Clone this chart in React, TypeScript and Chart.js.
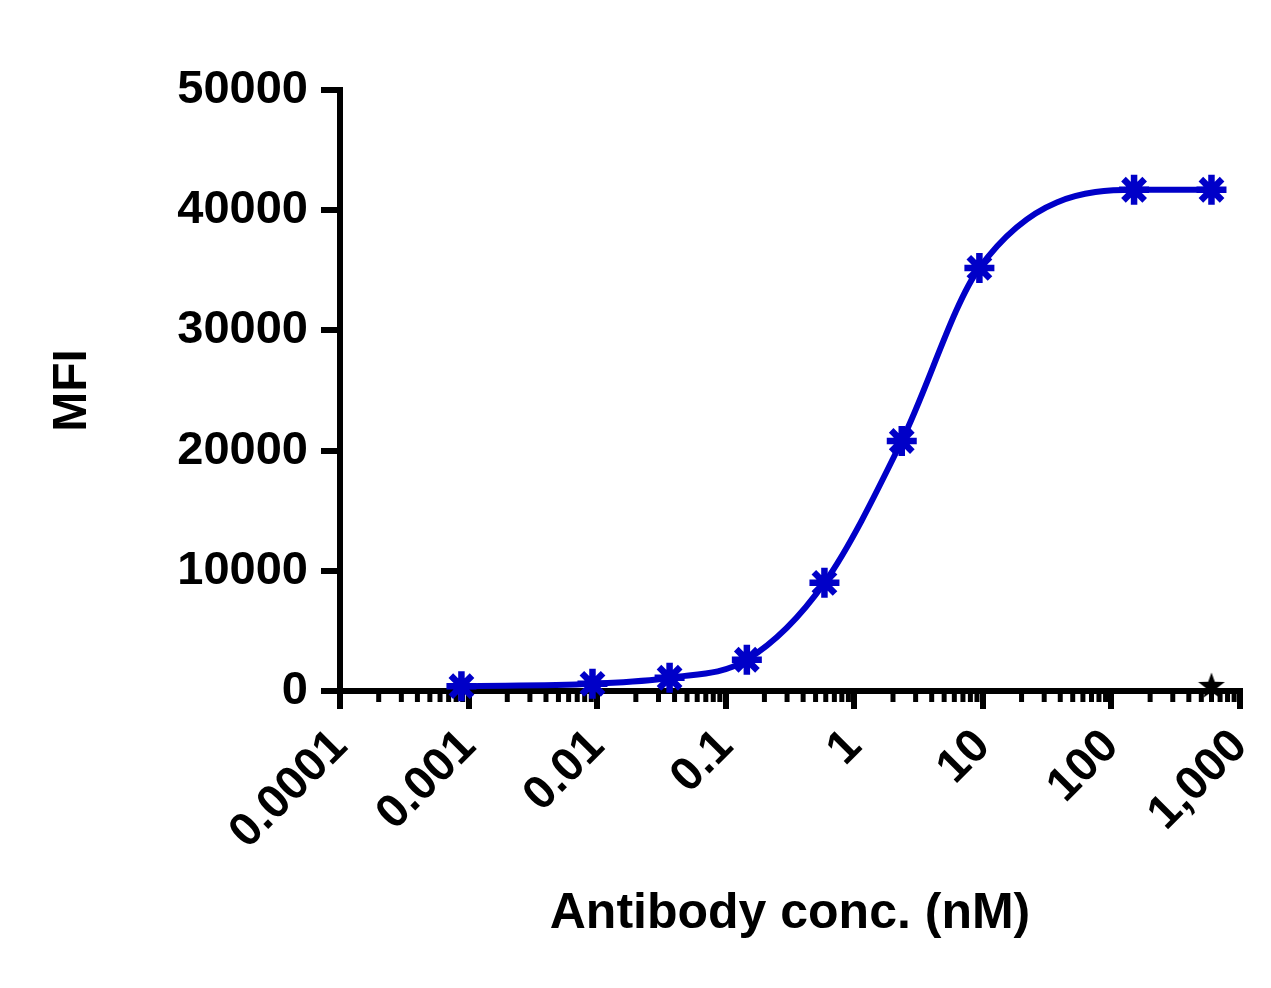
import React, { useEffect, useRef } from "react";
import { Chart, registerables } from "chart.js";

Chart.register(...registerables);

// data
const concentrations = [0.00088, 0.0092, 0.0366, 0.146, 0.586, 2.34, 9.4, 150, 600];
const mfiValues = [400, 600, 1100, 2600, 9000, 20800, 35200, 41700, 41700];
const controlConc = [600];
const controlMfi = [500];

const xTickValues = [0.0001, 0.001, 0.01, 0.1, 1, 10, 100, 1000];
const xTickLabels = ["0.0001", "0.001", "0.01", "0.1", "1", "10", "100", "1,000"];
const yTickValues = [0, 10000, 20000, 30000, 40000, 50000];

const BLUE = "#0000c8";
const FONT = "'Liberation Sans', Arial, sans-serif";

const decadeIndex = (v: number) =>
  xTickValues.findIndex((t) => Math.abs(Math.log10(t) - Math.log10(v)) < 1e-6);

// filled five-point star used as the control marker
function makeStar(size: number, color: string) {
  const c = document.createElement("canvas");
  c.width = size;
  c.height = size;
  const g = c.getContext("2d")!;
  g.fillStyle = color;
  g.beginPath();
  for (let i = 0; i < 10; i++) {
    const r = i % 2 === 0 ? size / 2 : size / 5;
    const a = -Math.PI / 2 + (i * Math.PI) / 5;
    g.lineTo(size / 2 + r * Math.cos(a), size / 2 + r * Math.sin(a) + size * 0.05);
  }
  g.closePath();
  g.fill();
  return c;
}

// short minor ticks under the log axis
const minorTicks = {
  id: "minorTicks",
  beforeDatasetsDraw(chart: any) {
    const xs = chart.scales.x;
    const ctx = chart.ctx;
    const y0 = chart.chartArea.bottom;
    ctx.save();
    ctx.strokeStyle = "#000";
    ctx.lineWidth = 5;
    for (let d = 0; d < xTickValues.length - 1; d++) {
      for (let k = 2; k <= 9; k++) {
        const px = xs.getPixelForValue(xTickValues[d] * k);
        ctx.beginPath();
        ctx.moveTo(px, y0);
        ctx.lineTo(px, y0 + 11);
        ctx.stroke();
      }
    }
    ctx.restore();
  },
};

const App = () => {
  const canvasRef = useRef<HTMLCanvasElement>(null);
  const chartRef = useRef<Chart | null>(null);

  useEffect(() => {
    if (!canvasRef.current) return;
    if (chartRef.current) chartRef.current.destroy();

    chartRef.current = new Chart(canvasRef.current, {
      type: "line",
      data: {
        datasets: [
          {
            label: "Antibody",
            data: concentrations.map((x, i) => ({ x, y: mfiValues[i] })),
            borderColor: BLUE,
            backgroundColor: BLUE,
            borderWidth: 6,
            cubicInterpolationMode: "monotone",
            pointStyle: "star",
            pointRadius: 15,
            pointBorderWidth: 6.5,
            pointBorderColor: BLUE,
            clip: false,
          },
          {
            label: "Control",
            data: controlConc.map((x, i) => ({ x, y: controlMfi[i] })),
            showLine: false,
            pointStyle: makeStar(28, "#000"),
            pointRadius: 14,
            clip: false,
          },
        ],
      },
      options: {
        responsive: true,
        maintainAspectRatio: false,
        animation: false,
        color: "#000",
        layout: { padding: { left: 0, top: 90, right: 31, bottom: 0 } },
        plugins: {
          legend: { display: false },
          tooltip: { enabled: false },
        },
        scales: {
          x: {
            type: "logarithmic",
            min: 0.0001,
            max: 1000,
            border: { display: true, width: 6, color: "#000" },
            grid: {
              display: true,
              drawOnChartArea: false,
              drawTicks: true,
              tickLength: 18,
              lineWidth: 6,
              tickWidth: (c: any) => (decadeIndex(c.tick.value) >= 0 ? 6 : 0),
              tickColor: (c: any) =>
                decadeIndex(c.tick.value) >= 0 ? "#000" : "rgba(0,0,0,0)",
            },
            ticks: {
              autoSkip: false,
              minRotation: 45,
              maxRotation: 45,
              padding: 10,
              color: "#000",
              font: { family: FONT, size: 47, weight: "bold" },
              callback: (v: any) => {
                const i = decadeIndex(Number(v));
                return i >= 0 ? xTickLabels[i] : "";
              },
            },
            afterBuildTicks: (scale: any) => {
              scale.ticks = xTickValues.map((value) => ({ value }));
            },
            afterFit: (scale: any) => {
              scale.height = 297;
              scale.paddingLeft = 0;
              scale.paddingRight = 0;
            },
            title: {
              display: true,
              text: "Antibody conc. (nM)",
              color: "#000",
              font: { family: FONT, size: 50, weight: "bold" },
              padding: { top: 0, bottom: 44 },
            },
          },
          y: {
            type: "linear",
            min: 0,
            max: 50000,
            border: { display: true, width: 6, color: "#000" },
            grid: {
              display: true,
              drawOnChartArea: false,
              drawTicks: true,
              tickLength: 19,
              lineWidth: 6,
              color: "#000",
            },
            ticks: {
              padding: 13,
              color: "#000",
              font: { family: FONT, size: 47, weight: "bold" },
              callback: (v: any) => String(v),
            },
            afterBuildTicks: (scale: any) => {
              scale.ticks = yTickValues.map((value) => ({ value }));
            },
            afterFit: (scale: any) => {
              scale.width = 340;
              scale.paddingTop = 0;
              scale.paddingBottom = 0;
            },
            title: {
              display: true,
              text: "MFI",
              color: "#000",
              font: { family: FONT, size: 48, weight: "bold" },
              padding: { top: 44, bottom: 0 },
            },
          },
        },
      },
      plugins: [minorTicks],
    } as any);

    return () => {
      if (chartRef.current) {
        chartRef.current.destroy();
        chartRef.current = null;
      }
    };
  }, []);

  return (
    <div
      style={{
        position: "fixed",
        left: 0,
        top: 0,
        width: 1271,
        height: 988,
        background: "#fff",
      }}
    >
      <canvas ref={canvasRef} />
    </div>
  );
};

export default App;
